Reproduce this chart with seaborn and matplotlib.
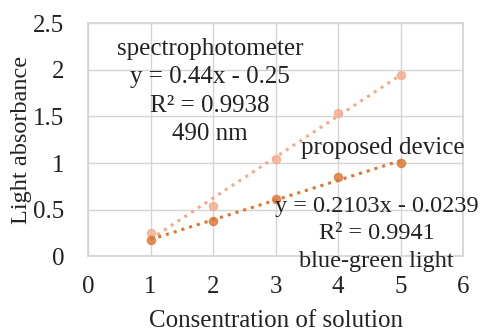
import numpy as np
import pandas as pd
import matplotlib
matplotlib.use("Agg")
import matplotlib.pyplot as plt
import seaborn as sns

# data
concentration = [1, 2, 3, 4, 5]
spectro = [0.25, 0.54, 1.04, 1.54, 1.95]
device = [0.18, 0.375, 0.61, 0.85, 1.0]

df = pd.DataFrame({"conc": concentration, "spectro": spectro, "device": device})

sns.set_theme(style="white")
plt.rcParams["font.family"] = ["Liberation Serif", "DejaVu Serif"]

fig, ax = plt.subplots(figsize=(4.89, 3.32), dpi=100)
fig.subplots_adjust(left=0.18, right=0.947, top=0.93, bottom=0.228)

c_spec = "#F4AA8A"
c_dev = "#DE7631"

sns.regplot(data=df, x="conc", y="spectro", ax=ax, ci=None, color=c_spec,
            scatter_kws={"s": 34, "zorder": 3},
            line_kws={"linestyle": ":", "linewidth": 2.2})
sns.regplot(data=df, x="conc", y="device", ax=ax, ci=None, color=c_dev,
            scatter_kws={"s": 34, "zorder": 3},
            line_kws={"linestyle": ":", "linewidth": 2.2})

ax.set_xlim(0, 6)
ax.set_ylim(0, 2.5)
ax.set_xticks(range(0, 7))
ax.set_yticks([0, 0.5, 1, 1.5, 2, 2.5])
ax.set_yticklabels(["0", "0.5", "1", "1.5", "2", "2.5"])
ax.grid(True, color="#D4D4D4", linewidth=1)
ax.set_axisbelow(True)
for s in ax.spines.values():
    s.set_color("#D4D4D4")
ax.tick_params(length=0, labelsize=18, colors="#222222")
ax.tick_params(axis="x", pad=14)
ax.tick_params(axis="y", pad=17)

ax.set_xlabel("Consentration of solution", fontsize=18, color="#222222", labelpad=9)
ax.set_ylabel("Light absorbance", fontsize=17.5, color="#222222")
ax.yaxis.set_label_coords(-0.15, 0.5)

ax.text(1.95, 1.77, "spectrophotometer\ny = 0.44x - 0.25\nR² = 0.9938\n490 nm",
        ha="center", va="center", fontsize=18, color="#222222", linespacing=1.38)
ax.text(4.72, 1.16, "proposed device", ha="center", va="center",
        fontsize=18, color="#222222")
ax.text(4.62, 0.24, "y = 0.2103x - 0.0239\nR² = 0.9941\nblue-green light",
        ha="center", va="center", fontsize=17.5, color="#222222", linespacing=1.42)

fig.savefig("out.png", dpi=100)
